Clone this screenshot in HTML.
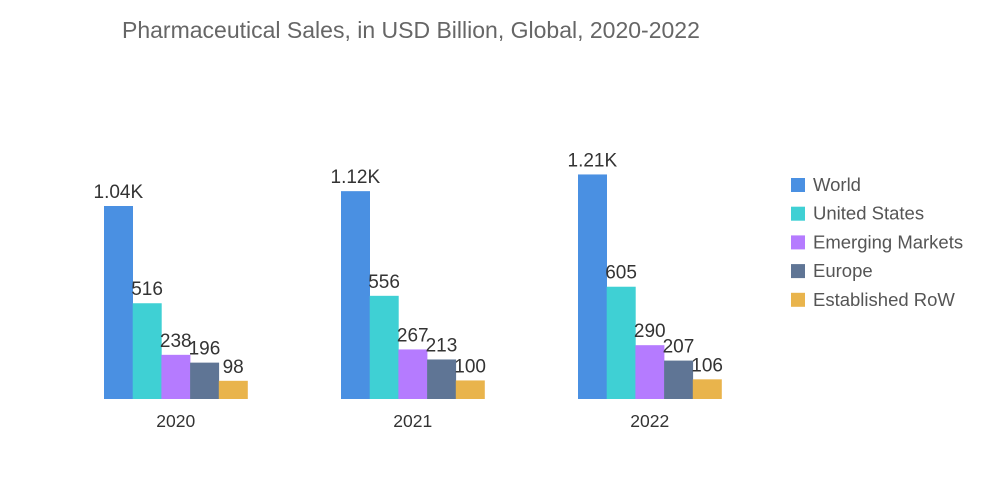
<!DOCTYPE html>
<html><head><meta charset="utf-8"><style>
body{margin:0;background:#fff;font-family:"Liberation Sans",sans-serif;}
svg{display:block}
</style></head><body>
<svg id="chart" width="1000" height="504">
<text x="122" y="38" font-size="23" fill="#666">Pharmaceutical Sales, in USD Billion, Global, 2020-2022</text>
<g id="bars"></g><g id="legend"></g>
</svg>
<script>
const categories=["2020","2021","2022"];
const seriesNames=["World","United States","Emerging Markets","Europe","Established RoW"];
const world=[1040,1120,1210];
const us=[516,556,605];
const emerging=[238,267,290];
const europe=[196,213,207];
const row=[98,100,106];
const labels=[["1.04K","1.12K","1.21K"],["516","556","605"],["238","267","290"],["196","213","207"],["98","100","106"]];
const colors=["#4a90e2","#3fd0d4","#b57bff","#5f7595","#e9b44c"];
const series=[world,us,emerging,europe,row];
const NS="http://www.w3.org/2000/svg";
const base=399, scale=193/1040, g0=104, gstep=237, bw=28.7;
const y=v=>base-v*scale;
const x=(c,s)=>g0+c*gstep+s*bw;
const bars=document.getElementById('bars');
function mk(t,a){const e=document.createElementNS(NS,t);for(const k in a)e.setAttribute(k,a[k]);return e;}
categories.forEach((cat,c)=>{
  series.forEach((arr,s)=>{
    const r=mk('rect',{x:x(c,s),y:y(arr[c]),width:bw+0.3,height:base-y(arr[c]),fill:colors[s]});
    
    
    bars.appendChild(r);
    const t=mk('text',{x:x(c,s)+bw/2,y:y(arr[c])-8,'font-size':19,fill:'#333','text-anchor':'middle'});
    t.textContent=labels[s][c];
    
    
    bars.appendChild(t);
  });
  const t=mk('text',{x:x(c,2.5),y:427,'font-size':17.5,fill:'#333','text-anchor':'middle'});
  t.textContent=cat;
  
  
  bars.appendChild(t);
});
const lg=document.getElementById('legend');
seriesNames.forEach((n,i)=>{
  const g=mk('g',{});
  
  
  g.appendChild(mk('rect',{x:791,y:178+i*28.7,width:14,height:14,fill:colors[i]}));
  const t=mk('text',{x:813,y:191+i*28.7,'font-size':18.5,fill:'#555'});
  t.textContent=n;
  g.appendChild(t);
  lg.appendChild(g);
});
</script>
</body></html>
